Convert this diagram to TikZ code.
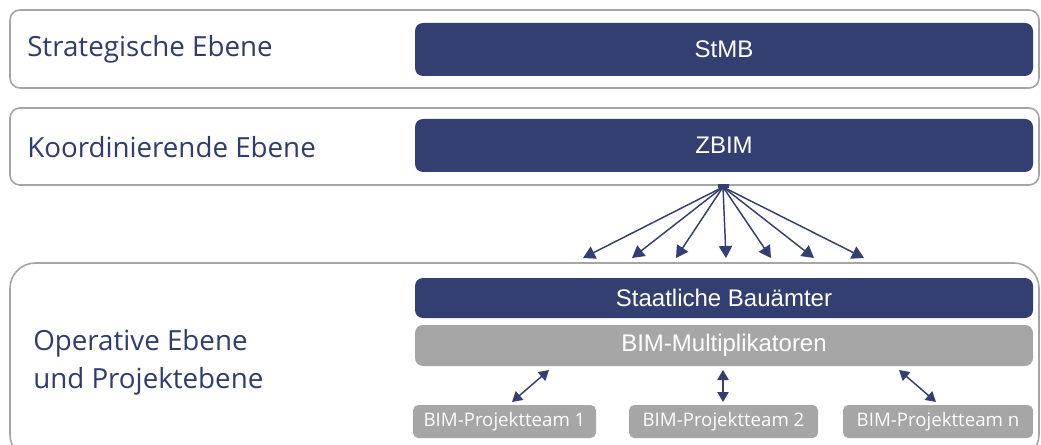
\documentclass[tikz,border=0pt]{standalone}
\usepackage{fontspec}
\usetikzlibrary{arrows.meta}
\newfontfamily\osans{Open Sans}
\newfontfamily\arialf{Liberation Sans}
\definecolor{navy}{RGB}{51,63,112}
\definecolor{navytext}{RGB}{47,60,110}
\definecolor{boxgray}{RGB}{166,166,166}
\definecolor{framegray}{RGB}{165,165,165}
\tikzset{
  frame/.style={draw=framegray, line width=1.2pt, fill=white, rounded corners=7.5pt, inner sep=0pt},
  bigframe/.style={draw=framegray, line width=1.2pt, fill=white, rounded corners=19pt, inner sep=0pt},
  dbox/.style={fill=navy, rounded corners=6pt, inner sep=0pt, text=white, font=\arialf\fontsize{18}{21}\selectfont},
  gbox/.style={fill=boxgray, rounded corners=6pt, inner sep=0pt, text=white, font=\arialf\fontsize{18}{21}\selectfont},
  tbox/.style={fill=boxgray, rounded corners=4pt, inner sep=0pt, text=white, font=\osans\fontsize{14}{16}\selectfont},
  lvl/.style={anchor=west, inner sep=0pt, text=navytext, font=\osans\fontsize{20.8}{28.5}\selectfont, align=left},
  arr/.style={draw=navy, line width=1.1pt, -{Triangle[length=9pt,width=10pt]}},
  darr/.style={draw=navy, line width=1.1pt, {Triangle[length=7.5pt,width=8.5pt]}-{Triangle[length=7.5pt,width=8.5pt]}}
}
\begin{document}
\begin{tikzpicture}[x=0.75pt,y=-0.75pt]
\useasboundingbox (0,0) rectangle (1041,445);
\clip (0,0) rectangle (1041,445);
% frames
\node[frame, minimum width=771.75pt, minimum height=58.5pt] (f1) at (524.5,49) {};
\node[frame, minimum width=771.75pt, minimum height=57.75pt] (f2) at (524.5,146.5) {};
\node[bigframe, minimum width=771.75pt, minimum height=147.75pt] (f3) at (524.5,361.5) {};
% level labels
\node[lvl] (l1) at (27,49) {Strategische Ebene};
\node[lvl] (l2) at (27,147) {Koordinierende Ebene};
\node[lvl] (l3) at (33,362) {Operative Ebene\\und Projektebene};
% boxes
\node[dbox, minimum width=463.5pt, minimum height=39.75pt] (stmb) at (724,49.5) {StMB};
\node[dbox, minimum width=463.5pt, minimum height=39.75pt] (zbim) at (724,145.5) {ZBIM};
\node[dbox, minimum width=463.5pt, minimum height=30pt] (sba) at (724,298) {Staatliche Bauämter};
\node[gbox, minimum width=463.5pt, minimum height=30.75pt] (mult) at (724,345.5) {BIM-Multiplikatoren};
\node[tbox, minimum width=137.25pt, minimum height=24.75pt] (t1) at (504.5,421.5) {BIM-Projektteam 1};
\node[tbox, minimum width=141.75pt, minimum height=24.75pt] (t2) at (723.5,421.5) {BIM-Projektteam 2};
\node[tbox, minimum width=142.5pt, minimum height=24.75pt] (tn) at (938,421.5) {BIM-Projektteam n};
% fan-out arrows
\coordinate (src) at (723,187);
\coordinate (e1) at (583,258);
\coordinate (e2) at (632,258);
\coordinate (e3) at (676,258);
\coordinate (e4) at (726,258);
\coordinate (e5) at (771,258);
\coordinate (e6) at (814,258);
\coordinate (e7) at (864,258);
\foreach \e in {e1,e2,e3,e4,e5,e6,e7}{\draw[arr] (src) -- (\e);}
\fill[navy] (718,184.5) rectangle (729,188.5);
% double arrows
\coordinate (a1) at (549,370);
\coordinate (b1) at (512,402);
\coordinate (a2) at (723,370);
\coordinate (b2) at (723,402);
\coordinate (a3) at (899,370);
\coordinate (b3) at (936,402);
\draw[darr] (a1) -- (b1);
\draw[darr] (a2) -- (b2);
\draw[darr] (a3) -- (b3);
\end{tikzpicture}
\end{document}
